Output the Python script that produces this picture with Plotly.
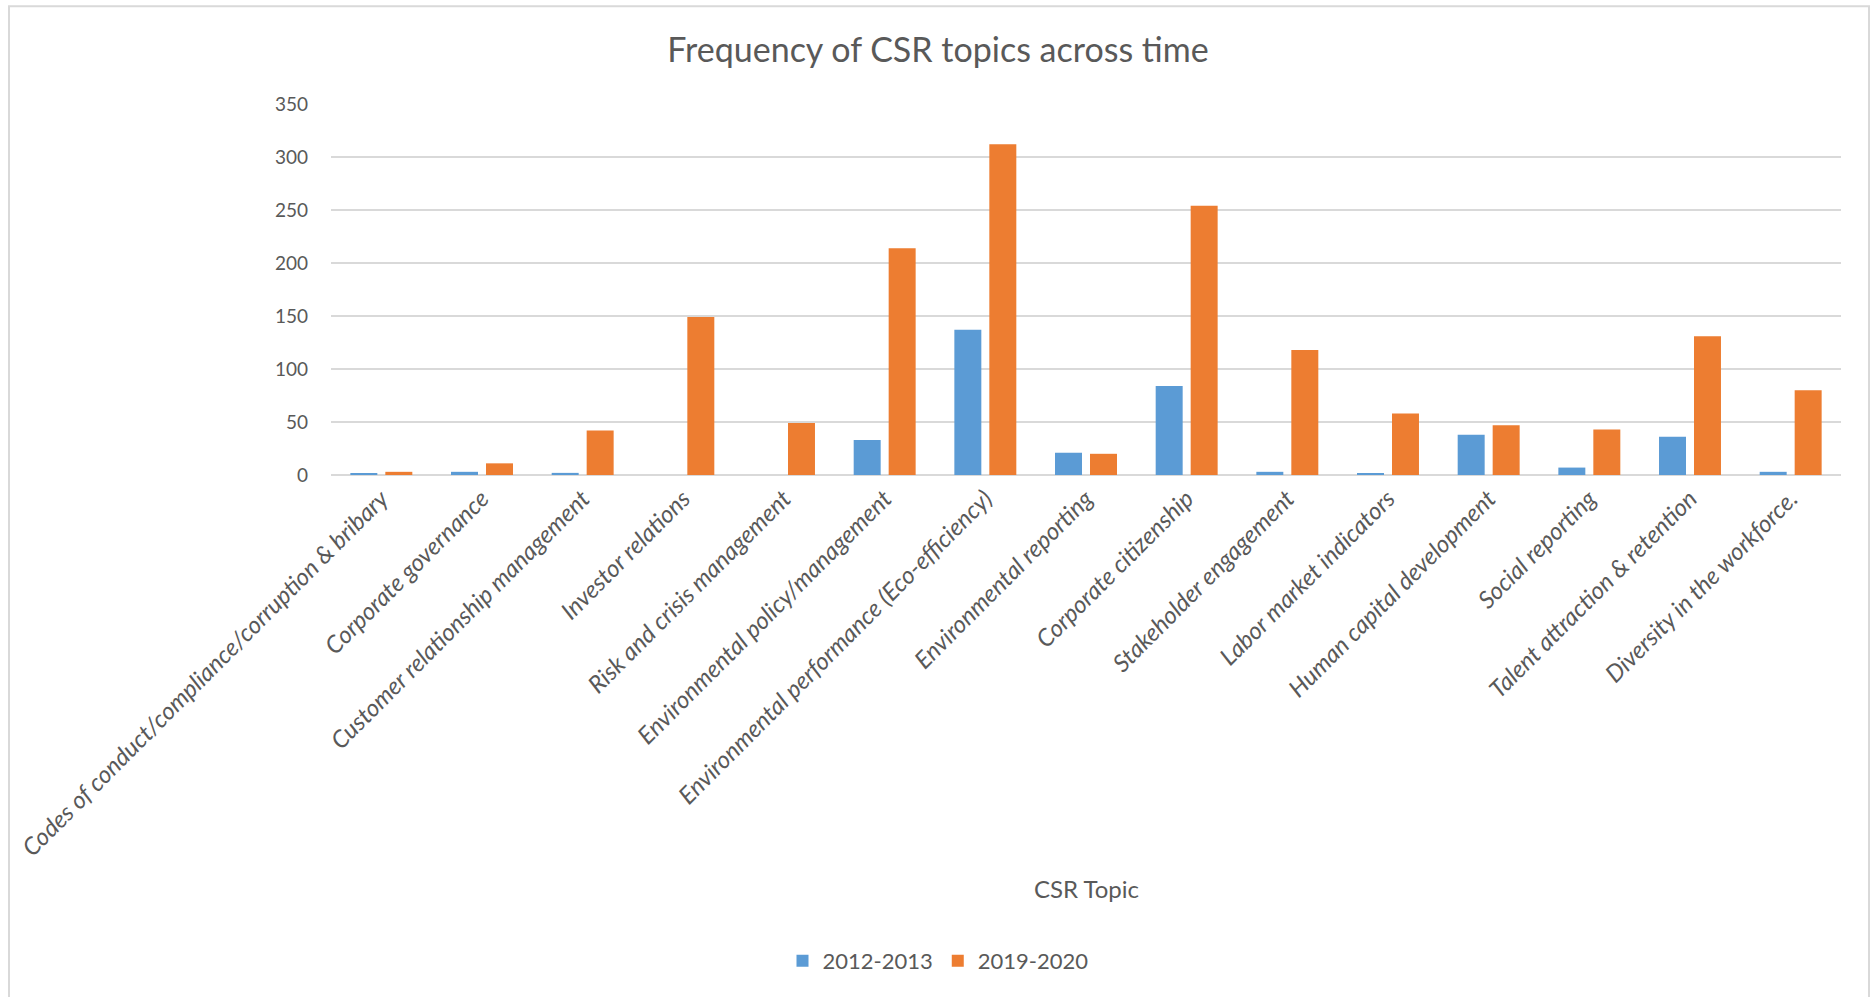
import plotly.graph_objects as go

# CSR topic counts for the two reporting periods
topics = [
    "Codes of conduct/compliance/corruption & bribary",
    "Corporate governance",
    "Customer relationship management",
    "Investor relations",
    "Risk and crisis management",
    "Environmental policy/management",
    "Environmental performance (Eco-efficiency)",
    "Environmental reporting",
    "Corporate citizenship",
    "Stakeholder engagement",
    "Labor market indicators",
    "Human capital development",
    "Social reporting",
    "Talent attraction & retention",
    "Diversity in the workforce.",
]
period_a = "2012-2013"
period_b = "2019-2020"
counts_a = [1, 3, 2, 0, 0, 33, 137, 21, 84, 3, 1, 38, 7, 36, 3]
counts_b = [3, 11, 42, 149, 49, 214, 312, 20, 254, 118, 58, 47, 43, 131, 80]
y_ticks = [0, 50, 100, 150, 200, 250, 300, 350]

W, H = 1876, 997
PLOT_L, PLOT_R = 331, 1841
PLOT_T, PLOT_B = 104, 475.5
FONT = "Lato"
TEXT = "#595959"
GRID = "#d9d9d9"

fig = go.Figure()
fig.add_trace(go.Bar(name=period_a, x=topics, y=counts_a, marker_color="#5B9BD5",
                     marker_line_width=0))
fig.add_trace(go.Bar(name=period_b, x=topics, y=counts_b, marker_color="#ED7D31",
                     marker_line_width=0))

pw = PLOT_R - PLOT_L
ph = PLOT_B - PLOT_T


def px_x(v):
    return (v - PLOT_L) / pw


def px_y(v):
    return (PLOT_B - v) / ph


# outer chart frame
fig.add_shape(type="rect", xref="paper", yref="paper",
              x0=px_x(9), x1=px_x(1869), y0=px_y(1010), y1=px_y(6),
              line=dict(color=GRID, width=2), fillcolor="rgba(0,0,0,0)", layer="below")

# horizontal axis title
fig.add_annotation(text="CSR Topic", xref="paper", yref="paper", x=0.5, y=px_y(890),
                   xanchor="center", yanchor="middle", showarrow=False,
                   font=dict(family=FONT, size=24, color=TEXT))

fig.update_layout(
    width=W, height=H,
    margin=dict(l=PLOT_L, r=W - PLOT_R, t=PLOT_T, b=H - PLOT_B, autoexpand=False),
    paper_bgcolor="white", plot_bgcolor="white",
    barmode="group", bargap=0.305, bargroupgap=0.2286,
    title=dict(text="Frequency of CSR topics across time", x=0.5, xref="container",
               xanchor="center", y=1 - 50 / H, yanchor="middle",
               font=dict(family=FONT, size=34, color=TEXT)),
    font=dict(family=FONT, color=TEXT),
    legend=dict(orientation="h", xref="container", yref="container",
                x=0.5, xanchor="center", y=1 - 961 / H, yanchor="middle",
                font=dict(family=FONT, size=22, color=TEXT),
                itemwidth=30, traceorder="normal"),
    showlegend=True,
    hovermode=False,
)
fig.update_xaxes(tickangle=-45,
                 tickfont=dict(family=FONT, size=24, color=TEXT, style="italic"),
                 ticklabelstandoff=4,
                 showgrid=False, showline=False, ticks="", automargin=False)
fig.update_yaxes(range=[0, 350], tickvals=y_ticks, tickfont=dict(family=FONT, size=19, color=TEXT),
                 showgrid=True, gridcolor=GRID, gridwidth=1.6, zeroline=True,
                 zerolinecolor=GRID, zerolinewidth=1.6, showline=False, ticks="",
                 ticklabelstandoff=22, automargin=False)

fig.write_html("out.html")
